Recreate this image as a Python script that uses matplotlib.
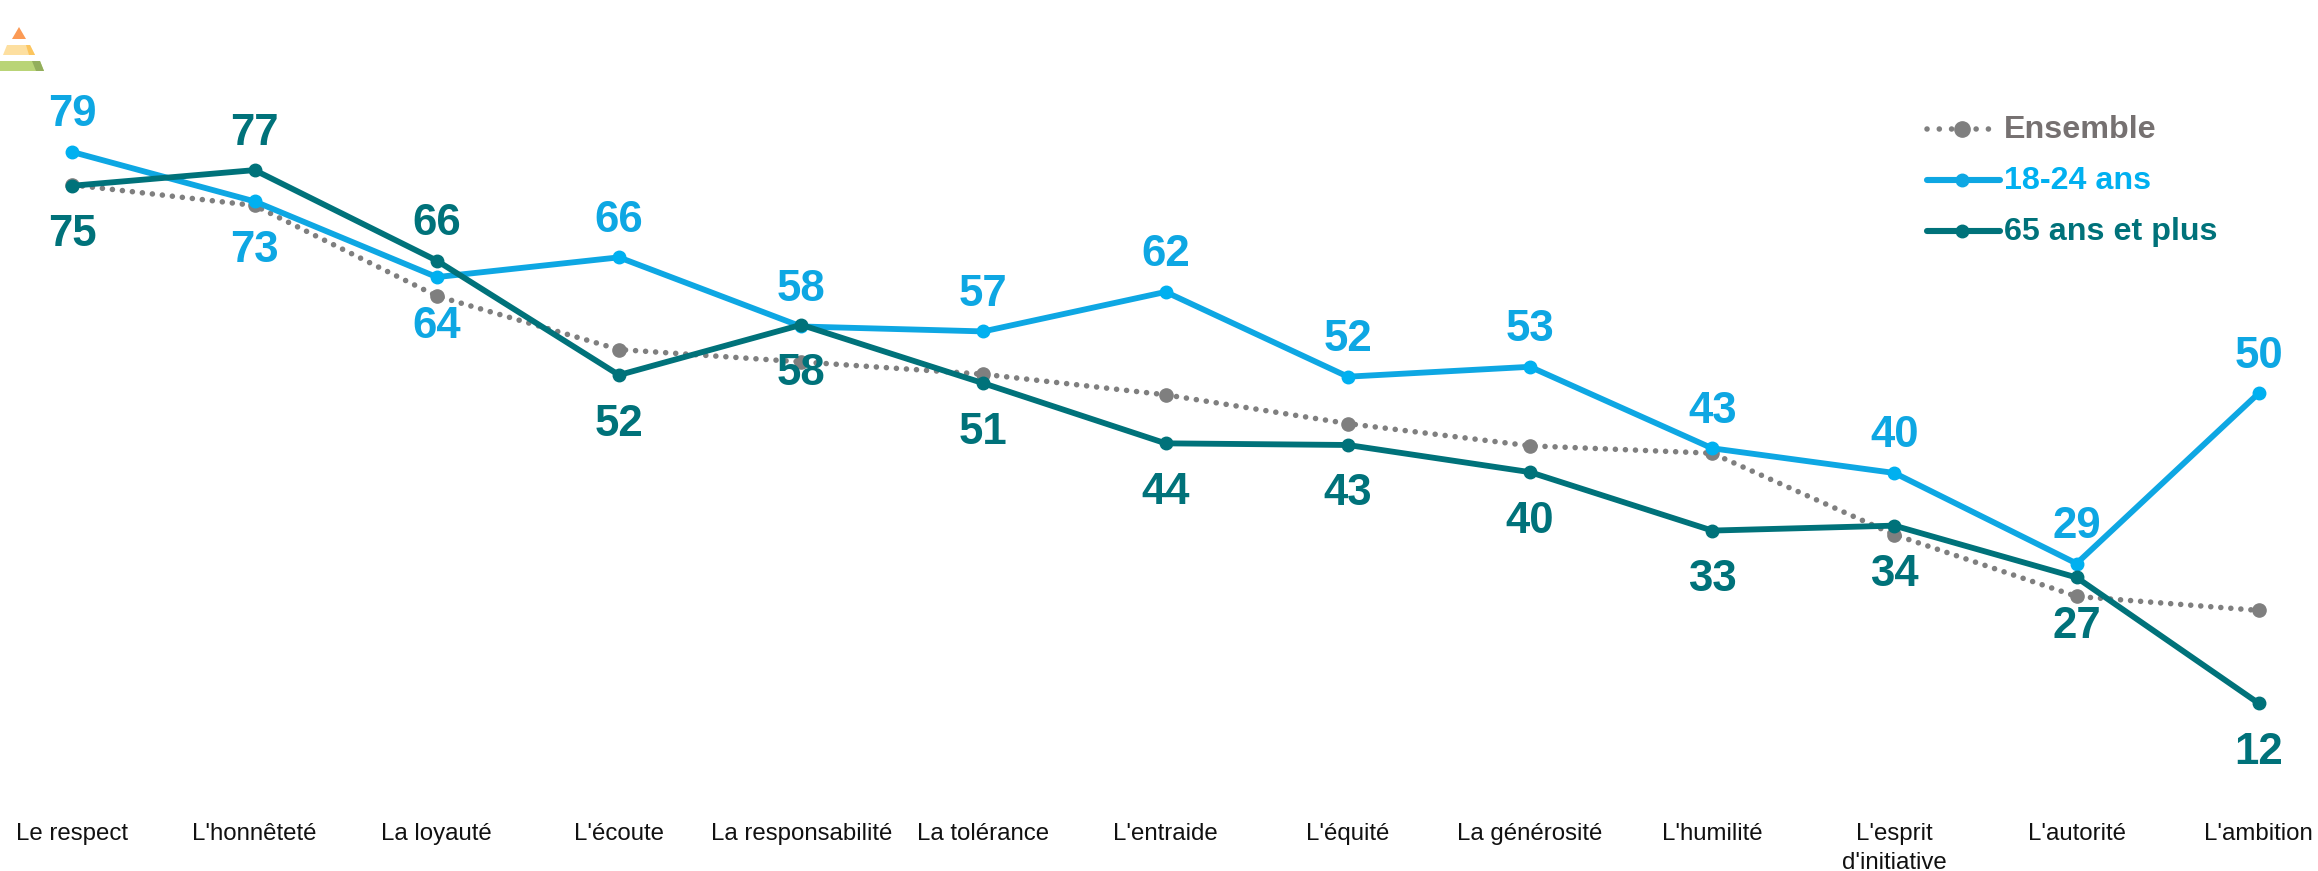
import numpy as np
import matplotlib
matplotlib.use('Agg')
import matplotlib.pyplot as plt
from matplotlib.patches import Polygon

plt.rcParams['font.family'] = ['Liberation Sans', 'DejaVu Sans']

categories = ['Le respect', "L'honnêteté", 'La loyauté', "L'écoute", 'La responsabilité',
              'La tolérance', "L'entraide", "L'équité", 'La générosité', "L'humilité",
              "L'esprit\nd'initiative", "L'autorité", "L'ambition"]
ensemble = [75, 72.5, 61.5, 55, 53.5, 52, 49.5, 46, 43.3, 42.4, 32.5, 25, 23.3]
jeunes = [79, 73, 63.8, 66.2, 57.8, 57.2, 62, 51.7, 52.9, 43, 40, 29, 49.7]
seniors = [74.9, 76.8, 65.8, 51.9, 58, 50.9, 43.6, 43.4, 40.1, 33, 33.6, 27.3, 12]

# which side of the point the label sits on, 1 above / -1 below
jeunes_side = [1, -1, -1, 1, 1, 1, 1, 1, 1, 1, 1, 1, 1]
seniors_side = [-1, 1, 1, -1, -1, -1, -1, -1, -1, -1, -1, -1, -1]

GREY = '#7f7f7f'
BLUE = '#0ea7e3'
TEAL = '#00727a'

W, H = 2318, 871
fig = plt.figure(figsize=(W/100, H/100), dpi=100)

# axes cover the whole figure, limits chosen so that data lands on the right pixels
ax = fig.add_axes([0, 0, 1, 1])
px_x = 182.2
px_y = 8.23
ax.set_xlim(-72.4/px_x, (W-72.4)/px_x)
ax.set_ylim(79-(H-152)/px_y, 79+152/px_y)
ax.axis('off')

x = np.arange(len(categories))
ax.plot(x, ensemble, color=GREY, lw=4, ls=(0, (0.01, 1.8)), dash_capstyle='round',
        marker='o', ms=9.5, label='Ensemble', zorder=2)
ax.plot(x, jeunes, color=BLUE, lw=4.2, marker='o', ms=9, mfc='#00b0f0', mec='#00b0f0',
        label='18-24 ans', zorder=3)
ax.plot(x, seniors, color=TEAL, lw=4.2, marker='o', ms=9, label='65 ans et plus', zorder=4)

for i in x:
    for vals, side, col in ((jeunes, jeunes_side, BLUE), (seniors, seniors_side, TEAL)):
        off = 37 if side[i] > 0 else -49
        ax.annotate(str(round(vals[i])), (i, vals[i]), xytext=(0, off), textcoords='offset pixels',
                    ha='center', va='center', color=col, fontsize=31.5, fontweight='bold')

for i, name in enumerate(categories):
    ax.text(i, 79-(823-152)/px_y, name, ha='center', va='top', fontsize=17.3,
            color='#111111', linespacing=1.4)

# legend drawn by hand to keep the exact layout
leg_rows = [('Ensemble', '#767171', GREY, 129), ('18-24 ans', '#00b0f0', BLUE, 180),
            ('65 ans et plus', '#00727a', TEAL, 231)]
for name, tcol, lcol, ypx in leg_rows:
    fig.text(2004/W, 1-(ypx+1)/H, name, color=tcol, fontsize=23.2, fontweight='bold', va='center')
    dotted = name == 'Ensemble'
    fig.add_artist(plt.Line2D([1927/W, 2000/W], [1-ypx/H]*2, color=lcol, lw=4 if dotted else 4.4,
                              ls=(0, (0.01, 2.2)) if dotted else '-', solid_capstyle='round',
                              dash_capstyle='round'))
    fig.add_artist(plt.Line2D([1962/W], [1-ypx/H], color=lcol, marker='o', ms=11 if dotted else 9))

# small pyramid icon
def tri(pts, col):
    fig.add_artist(Polygon([(a/W, 1-b/H) for a, b in pts], closed=True, color=col, lw=0,
                           transform=fig.transFigure))

tri([(19, 27), (26, 39), (12, 39)], '#fb9a55')
tri([(7, 45), (30, 45), (35, 55), (3, 55)], '#fddfa0')
tri([(26, 45), (30, 45), (35, 55), (29, 55)], '#fcc55e')
tri([(0, 61), (40, 61), (44, 71), (0, 71)], '#b9d477')
tri([(32, 61), (40, 61), (44, 71), (36, 71)], '#93ae5c')

fig.savefig('out.png', dpi=100)
